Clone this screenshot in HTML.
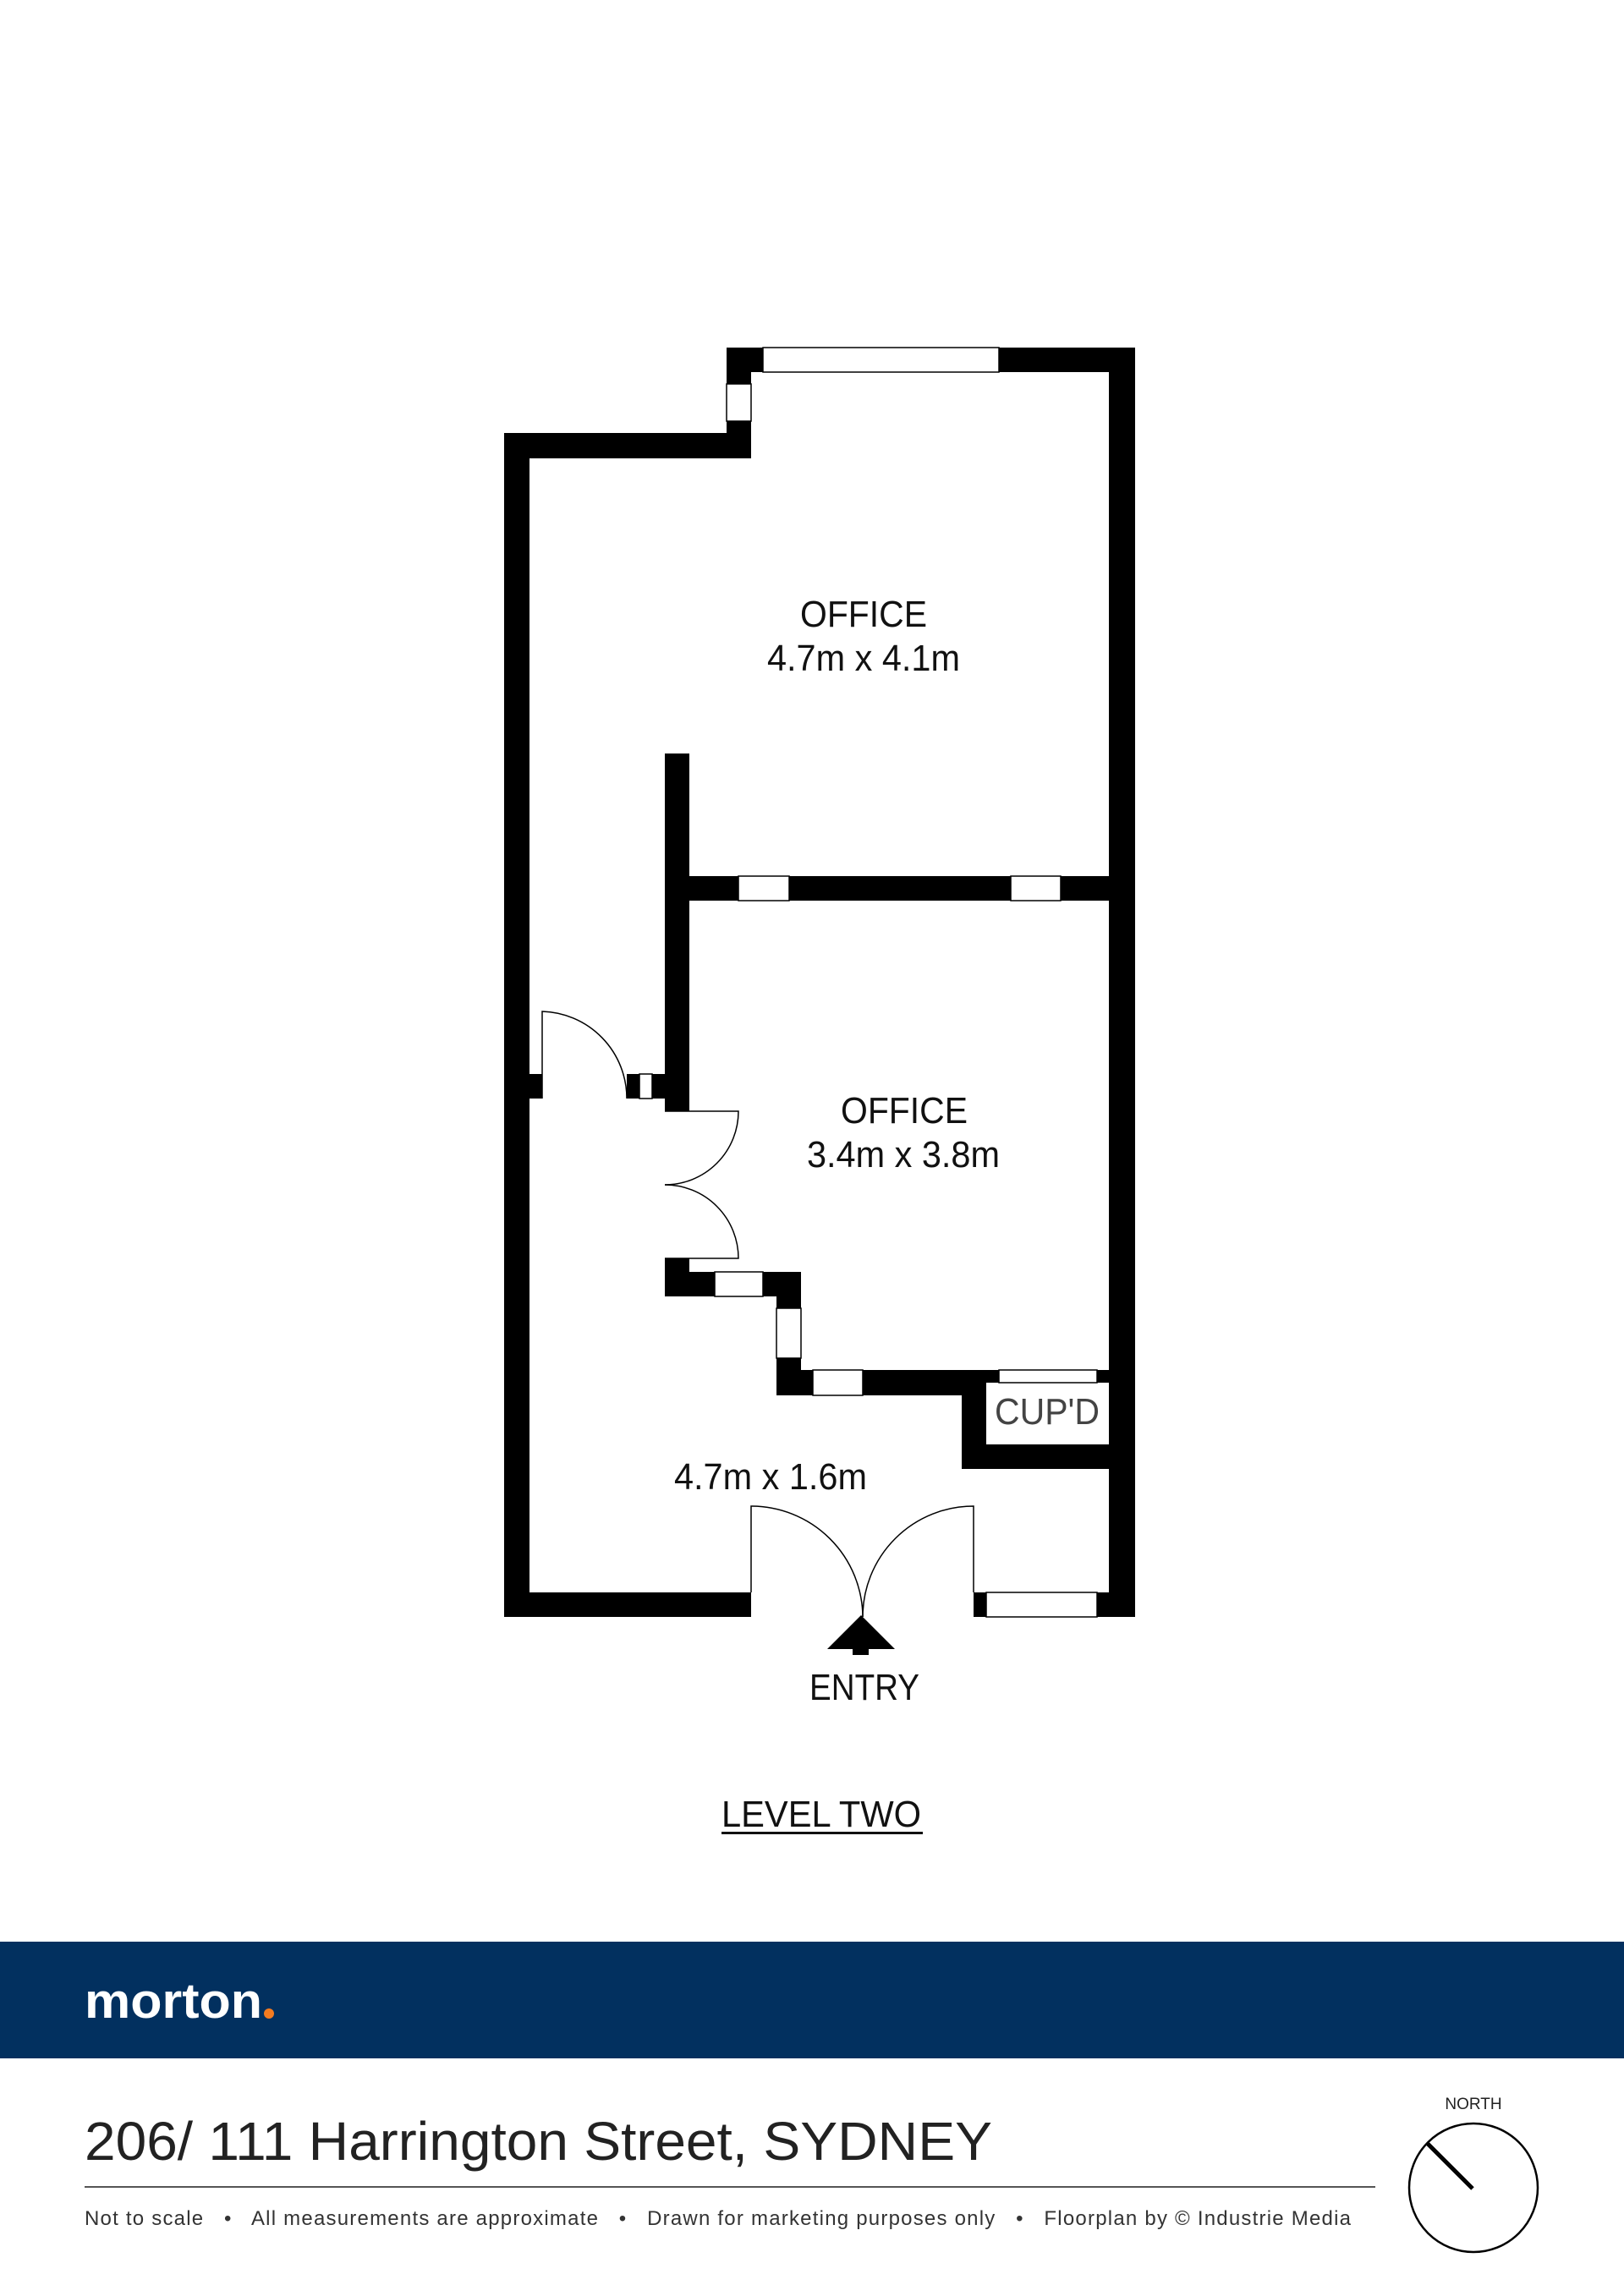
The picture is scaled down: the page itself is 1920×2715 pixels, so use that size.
<!DOCTYPE html>
<html><head><meta charset="utf-8"><style>html,body{margin:0;padding:0;background:#fff}svg{display:block}</style></head>
<body>
<svg width="1920" height="2715" viewBox="0 0 1920 2715" xmlns="http://www.w3.org/2000/svg" font-family="Liberation Sans, sans-serif">
<rect width="1920" height="2715" fill="#fff"/>
<g fill="#000">
<rect x="859" y="411" width="483" height="29"/>
<rect x="1311" y="411" width="31" height="1501"/>
<rect x="859" y="411" width="29" height="131"/>
<rect x="596" y="512" width="292" height="30"/>
<rect x="596" y="512" width="30" height="1400"/>
<rect x="786" y="891" width="29" height="423"/>
<rect x="786" y="1036" width="556" height="29"/>
<rect x="626" y="1270" width="15" height="29"/>
<rect x="741" y="1270" width="45" height="29"/>
<rect x="786" y="1488" width="29" height="45"/>
<rect x="786" y="1504" width="161" height="29"/>
<rect x="918" y="1504" width="29" height="146"/>
<rect x="918" y="1620" width="424" height="30"/>
<rect x="1137" y="1620" width="29" height="117"/>
<rect x="1137" y="1708" width="205" height="29"/>
<rect x="596" y="1883" width="292" height="29"/>
<rect x="1151" y="1883" width="191" height="29"/>
</g>
<rect x="1166" y="1635" width="145" height="73" fill="#fff"/>
<g fill="#fff" stroke="#000" stroke-width="1.5">
<rect x="902" y="411" width="279" height="29"/>
<rect x="859" y="454" width="29" height="44"/>
<rect x="873" y="1036" width="60" height="29"/>
<rect x="1195" y="1036" width="59" height="29"/>
<rect x="756" y="1270" width="15" height="29"/>
<rect x="845" y="1504" width="57" height="29"/>
<rect x="918" y="1547" width="29" height="59"/>
<rect x="961" y="1620" width="59" height="30"/>
<rect x="1181" y="1620" width="116" height="15"/>
<rect x="1166" y="1883" width="131" height="29"/>
</g>
<g fill="none" stroke="#000" stroke-width="1.5">
<path d="M641 1299 L641 1196 A103 103 0 0 1 741 1299"/>
<path d="M786 1314 L873 1314 A87 87 0 0 1 786 1401"/>
<path d="M786 1488 L873 1488 A87 87 0 0 0 786 1401"/>
<path d="M888 1883 L888 1781 A132 132 0 0 1 1020 1912"/>
<path d="M1151 1883 L1151 1781 A131 131 0 0 0 1020 1912"/>
</g>
<polygon points="1018,1910 1058,1950 978,1950" fill="#000"/>
<rect x="1008" y="1948" width="19" height="9" fill="#000"/>
<g font-size="44" fill="#111" text-anchor="middle">
<text x="1021" y="741" textLength="150" lengthAdjust="spacingAndGlyphs">OFFICE</text>
<text x="1021" y="793" textLength="228" lengthAdjust="spacingAndGlyphs">4.7m x 4.1m</text>
<text x="1069" y="1328" textLength="150" lengthAdjust="spacingAndGlyphs">OFFICE</text>
<text x="1068" y="1380" textLength="228" lengthAdjust="spacingAndGlyphs">3.4m x 3.8m</text>
<text x="911" y="1761" textLength="228" lengthAdjust="spacingAndGlyphs">4.7m x 1.6m</text>
<text x="1238" y="1684" fill="#444" textLength="124" lengthAdjust="spacingAndGlyphs">CUP'D</text>
<text x="1022" y="2010" textLength="130" lengthAdjust="spacingAndGlyphs">ENTRY</text>
<text x="971" y="2160" textLength="236" lengthAdjust="spacingAndGlyphs">LEVEL TWO</text>
</g>
<rect x="853" y="2166" width="238" height="3" fill="#111"/>
<rect x="0" y="2296" width="1920" height="138" fill="#02305f"/>
<text x="100" y="2386" font-size="58" font-weight="bold" fill="#fff" textLength="210" lengthAdjust="spacingAndGlyphs">morton</text>
<circle cx="318" cy="2381" r="6" fill="#f47b20"/>
<text x="100" y="2554" font-size="64" fill="#222" textLength="1073" lengthAdjust="spacingAndGlyphs">206/ 111 Harrington Street, SYDNEY</text>
<rect x="100" y="2585" width="1526" height="2" fill="#555"/>
<text x="100" y="2631" font-size="24" fill="#333" textLength="1497" lengthAdjust="spacing" xml:space="preserve">Not to scale   •   All measurements are approximate   •   Drawn for marketing purposes only   •   Floorplan by © Industrie Media</text>
<text x="1742" y="2494" font-size="19" fill="#222" text-anchor="middle">NORTH</text>
<circle cx="1742" cy="2587" r="76" fill="none" stroke="#000" stroke-width="2.5"/>
<line x1="1688" y1="2535" x2="1741" y2="2588" stroke="#000" stroke-width="5"/>
</svg>
</body></html>
